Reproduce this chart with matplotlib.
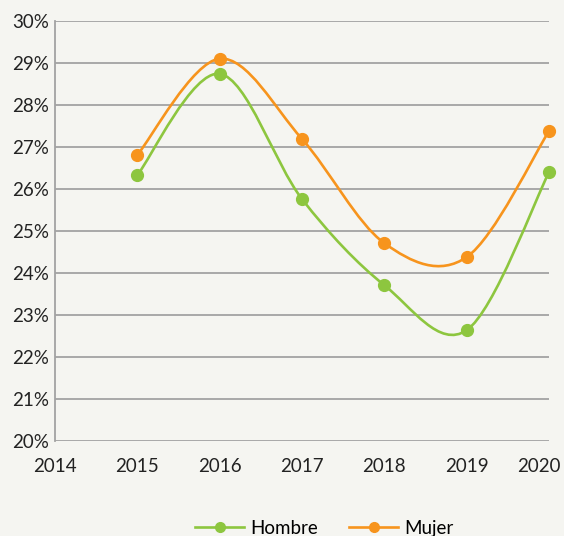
import matplotlib.pyplot as plt
import matplotlib.transforms as mtransforms
from matplotlib.path import Path
from matplotlib.patches import PathPatch
from matplotlib.lines import Line2D

years = [2015, 2016, 2017, 2018, 2019, 2020]
hombre = [26.33, 28.74, 25.76, 23.71, 22.64, 26.40]
mujer = [26.81, 29.10, 27.19, 24.71, 24.38, 27.38]

green = '#8dc63f'
orange = '#f7941d'
bg = '#f5f5f1'


def smooth_path(xs, ys):
    # Excel-style smoothed line: cubic bezier segments (Catmull-Rom control points)
    pts = list(zip(xs, ys))
    verts = [pts[0]]
    codes = [Path.MOVETO]
    n = len(pts)
    for i in range(n - 1):
        p0 = pts[i - 1] if i > 0 else pts[i]
        p1 = pts[i]
        p2 = pts[i + 1]
        p3 = pts[i + 2] if i + 2 < n else pts[i + 1]
        c1 = (p1[0] + (p2[0] - p0[0]) / 6, p1[1] + (p2[1] - p0[1]) / 6)
        c2 = (p2[0] - (p3[0] - p1[0]) / 6, p2[1] - (p3[1] - p1[1]) / 6)
        verts += [c1, c2, p2]
        codes += [Path.CURVE4] * 3
    return Path(verts, codes)


plt.rcParams['font.family'] = ['Lato', 'DejaVu Sans']

fig = plt.figure(figsize=(5.64, 5.36), dpi=100, facecolor=bg)
ax = fig.add_axes([0.0975, 0.177, 0.876, 0.784])
ax.set_facecolor(bg)

for vals, col in [(hombre, green), (mujer, orange)]:
    ax.add_patch(PathPatch(smooth_path(years, vals), facecolor='none',
                           edgecolor=col, lw=1.9, zorder=3, clip_on=False))
    ax.plot(years, vals, 'o', color=col, ms=8.5, zorder=4, clip_on=False)

ax.set_xlim(2014, 2020)
ax.set_ylim(20, 30)
ax.set_yticks(range(20, 31))
ax.set_yticklabels([f'{v}%' for v in range(20, 31)])
ax.set_xticks(range(2014, 2021))
ax.grid(axis='y', color='#a3a3a3', lw=1.3)
ax.set_axisbelow(True)
for s in ['top', 'right', 'bottom']:
    ax.spines[s].set_visible(False)
ax.spines['left'].set_color('#a3a3a3')
ax.spines['left'].set_linewidth(1.3)
ax.tick_params(length=0, labelsize=13.5, colors='#222222')
ax.tick_params(axis='y', pad=4)
ax.tick_params(axis='x', pad=12)

# last year label sits a bit left so it stays inside the figure
last = ax.get_xticklabels()[-1]
last.set_transform(last.get_transform() +
                   mtransforms.ScaledTranslation(-0.1, 0, fig.dpi_scale_trans))

handles = [Line2D([], [], color=green, lw=1.9, marker='o', ms=7),
           Line2D([], [], color=orange, lw=1.9, marker='o', ms=7)]
fig.legend(handles, ['Hombre', 'Mujer'], loc='center', bbox_to_anchor=(0.575, 0.014),
           ncol=2, frameon=False, fontsize=13.5, handlelength=2.6,
           handletextpad=0.3, columnspacing=1.7)

fig.savefig('out.png', dpi=100, facecolor=bg)
